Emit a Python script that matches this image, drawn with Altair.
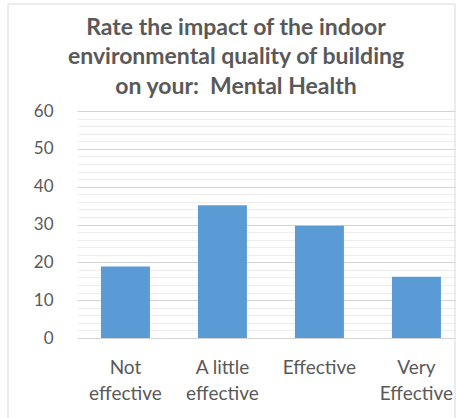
import altair as alt
import pandas as pd

# Survey responses (% of respondents)
categories = ["Not effective", "A little effective", "Effective", "Very Effective"]
shares = [18.9, 35.1, 29.7, 16.2]

title_lines = [
    "Rate the impact of the indoor",
    "environmental quality of building",
    "on your:\u00a0 Mental Health",
]

major_ticks = [0, 10, 20, 30, 40, 50, 60]
minor_ticks = [v for v in range(0, 61, 2) if v % 10 != 0]

TEXT = "#595959"
BAR = "#5B9BD5"
FONT = "Lato"

df = pd.DataFrame({"category": categories, "share": shares})

x_scale = alt.Scale(domain=categories, paddingInner=0.495, paddingOuter=0.196, align=0.63)
y_scale = alt.Scale(domain=[0, 60], nice=False)

# Two-line category labels: break at the last space (single words stay as they are)
label_expr = (
    "indexof(datum.label, ' ') < 0 ? datum.label : "
    "[slice(datum.label, 0, lastindexof(datum.label, ' ')), "
    "slice(datum.label, lastindexof(datum.label, ' ') + 1)]"
)

x_axis = alt.Axis(
    orient="bottom", title=None, domain=False, ticks=False, grid=False,
    labelAngle=0, labelExpr=label_expr, labelFont=FONT, labelFontSize=19,
    labelColor=TEXT, labelPadding=20, labelLineHeight=26,
)
x_enc = alt.X("category:N", scale=x_scale, sort=categories, axis=x_axis)

base = alt.Chart(df)

# Light minor gridlines every 2 units
minor = base.mark_bar(opacity=0).encode(
    x=x_enc,
    y=alt.Y(
        "share:Q",
        scale=y_scale,
        axis=alt.Axis(
            orient="left", values=minor_ticks, grid=True, gridColor="#ededed",
            gridWidth=1, labels=False, ticks=False, domain=False, title=None,
        ),
    ),
)

bars = base.mark_bar(color=BAR).encode(
    x=x_enc,
    y=alt.Y(
        "share:Q",
        scale=y_scale,
        axis=alt.Axis(
            orient="left", values=major_ticks, grid=True, gridColor="#d4d4d4",
            gridWidth=1, domain=False, ticks=False, title=None,
            labelFont=FONT, labelFontSize=17, labelColor=TEXT, labelPadding=24,
        ),
    ),
)

# Chart-area frame
frame = alt.Chart(alt.Data(values=[{"f": 1}])).mark_rect(
    filled=False, stroke="#d9d9d9", strokeWidth=1
).encode(
    x=alt.value(-69), x2=alt.value(378), y=alt.value(-107), y2=alt.value(309)
)

chart = (
    alt.layer(frame, minor, bars)
    .resolve_axis(y="independent")
    .properties(
        width=378,
        height=227,
        padding={"left": 77, "top": 111, "right": 1, "bottom": 80},
        autosize=alt.AutoSizeParams(type="none"),
        title=alt.TitleParams(
            text=title_lines, font=FONT, fontSize=23, fontWeight="bold",
            color=TEXT, lineHeight=29.5, anchor="middle", dx=-30,
            baseline="alphabetic", dy=117,
        ),
    )
    .configure(
        background="white",
        view=alt.ViewConfig(stroke="transparent"),
        axis=alt.AxisConfig(domain=False),
    )
)

chart.save("out.html", embed_options={"renderer": "svg", "actions": False})
